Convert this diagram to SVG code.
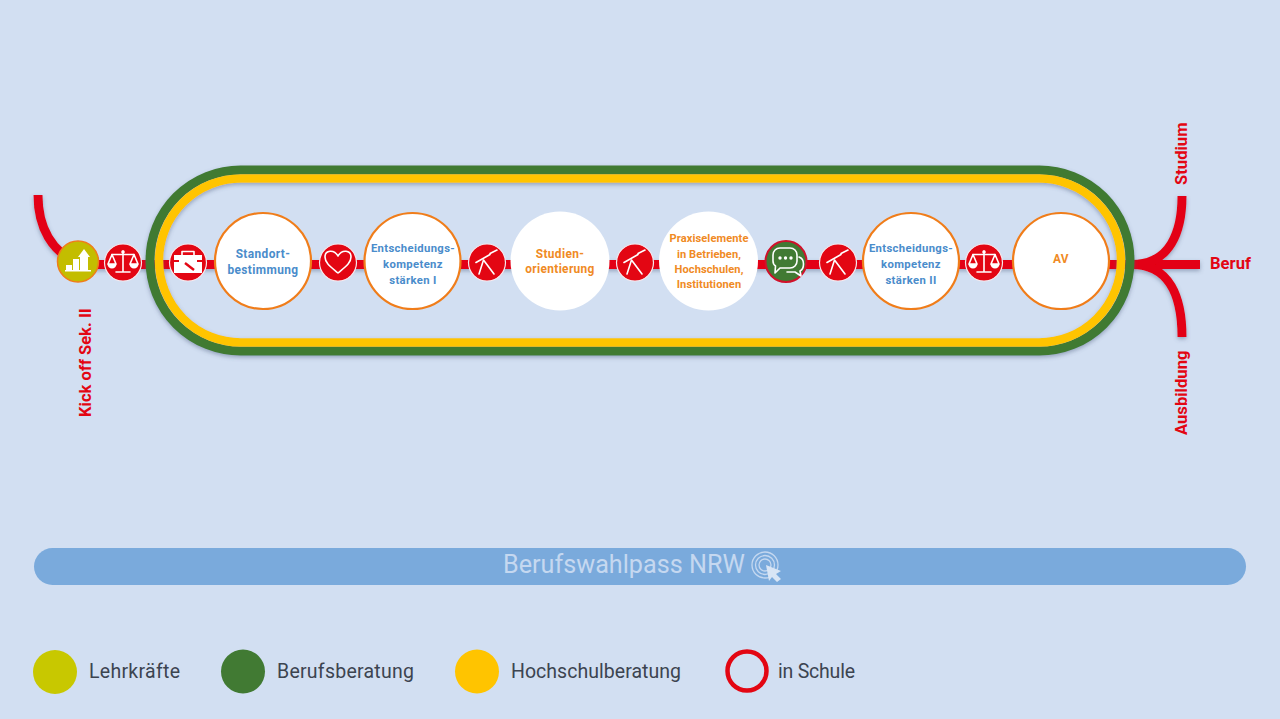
<svg xmlns="http://www.w3.org/2000/svg" width="1280" height="719" viewBox="0 0 1280 719">
<style>
text{font-family:Roboto,"Liberation Sans",sans-serif}
.line{fill:none;stroke:#e30613;stroke-width:9}
.big{fill:#fff;stroke:#f07d1a;stroke-width:2.2}
.bw{fill:#fff}
.sm{fill:#e30613;stroke:#f6e9ee;stroke-width:1.2}
.ic{fill:none;stroke:#fff;stroke-width:1.6;stroke-linecap:round;stroke-linejoin:round}
.if{fill:#fff}
.b{font-size:11.9px;font-weight:700;fill:#4a8ccb;text-anchor:middle;letter-spacing:.4px}
.e{font-size:11.3px;letter-spacing:.35px}
.o{font-size:11.9px;font-weight:700;fill:#f08a24;text-anchor:middle;letter-spacing:.35px}
.p{font-size:11.1px;letter-spacing:.1px}
.r{font-size:16.6px;font-weight:700;fill:#e30613}
.l{font-size:19.5px;fill:#3c4450}
</style>
<defs>
<filter id="sh" x="-5%" y="-15%" width="110%" height="135%"><feDropShadow dx="0" dy="2" stdDeviation="2" flood-color="#4a5a7a" flood-opacity=".45"/></filter>
<g id="scale"><path class="ic" stroke-width="1.900" d="M0-11V9M-7 10H7M-11-7.500H11"/><path class="ic" stroke-width="1.200" d="M-11-7.500L-15 2H-7ZM11-7.500L7 2H15Z"/><path class="if" d="M-15.500 2H-6.500A4.500 4.500 0 0 1-15.500 2ZM6.500 2H15.500A4.500 4.500 0 0 1 6.500 2Z"/><circle class="if" cy="-10" r="1.800"/></g>
<g id="scope"><path class="ic" stroke-width="1.500" d="M-3.500-2L-8 12M-3.500-2L7 12"/><path class="ic" stroke-width="3.600" stroke-linecap="butt" d="M-11 .5L3-7.500"/><path class="ic" stroke-width="5.600" stroke-linecap="butt" d="M3-8.500L10-12"/></g>
<g id="heart"><path class="ic" stroke-width="1.800" d="M0 11C-7 5-13 1-13-5C-13-12-4-13 0-6C4-13 13-12 13-5C13 1 7 5 0 11Z"/></g>
<g id="tool"><path class="if" d="M-14-7H14V11H-14Z"/><path class="ic" d="M-6-7V-10.500H6V-7"/><path fill="#e30613" d="M-14-2H-9V0H-14ZM9-2H14V0H9Z"/><path fill="none" stroke="#e30613" stroke-width="2.400" d="M-3 1L6 8"/></g>
</defs>
<rect id="background" width="1280" height="719" fill="#d2dff2"/>
<g id="connectors" filter="url(#sh)">
<path class="line" d="M78 264.500H1200"/>
<path class="line" d="M38 195C38 228 52 252 78 263"/>
<path class="line" d="M1182 196C1182 232 1170 264.500 1132 264.500"/>
<path class="line" d="M1182 337C1182 298 1170 264.500 1132 264.500"/>
</g>
<g id="ring" fill="none" filter="url(#sh)">
<rect x="150" y="170" width="980" height="181" rx="90.500" stroke="#417a33" stroke-width="9"/>
<rect x="159" y="178.500" width="962" height="164" rx="82" stroke="#ffc400" stroke-width="8.500"/>
</g>
<g id="kickoff"><circle cx="78" cy="261.500" r="20.500" fill="#c3bd00" stroke="#f07d1a" stroke-width="1.500"/><path class="if" d="M66 270V265H72V270ZM73 270V259H79V270ZM80 270V257L78 257L84 249L90 257H88V270ZM65 270H91V271.500H65Z"/></g>
<g id="n-scale1"><circle class="sm" cx="123" cy="262.500" r="18.500"/><use href="#scale" x="123" y="262"/></g>
<g id="n-tool"><circle class="sm" cx="188" cy="262.500" r="18.500"/><use href="#tool" x="188" y="262"/></g>
<g id="n-standort"><circle class="big" cx="263" cy="261" r="48"/><text class="b"><tspan x="263" y="257.500">Standort-</tspan><tspan x="263" y="273.500">bestimmung</tspan></text></g>
<g id="n-heart"><circle class="sm" cx="338" cy="262.500" r="18.500"/><use href="#heart" x="338" y="262"/></g>
<g id="n-ent1"><circle class="big" cx="412.500" cy="261" r="48"/><text class="b e"><tspan x="413" y="251.500">Entscheidungs-</tspan><tspan x="413" y="267.500">kompetenz</tspan><tspan x="413" y="283.500">stärken I</tspan></text></g>
<g id="n-scope1"><circle class="sm" cx="487" cy="262.500" r="18.500"/><use href="#scope" x="487" y="262"/></g>
<g id="n-studien"><circle class="bw" cx="560" cy="261" r="49.500"/><text class="o"><tspan x="560" y="257.500">Studien-</tspan><tspan x="560" y="272.500">orientierung</tspan></text></g>
<g id="n-scope2"><circle class="sm" cx="635" cy="262.500" r="18.500"/><use href="#scope" x="635" y="262"/></g>
<g id="n-praxis"><circle class="bw" cx="708.500" cy="261" r="49.500"/><text class="o p"><tspan x="709" y="242">Praxiselemente</tspan><tspan x="709" y="258">in Betrieben,</tspan><tspan x="709" y="273">Hochschulen,</tspan><tspan x="709" y="287.500">Institutionen</tspan></text></g>
<g id="n-chat"><circle cx="786" cy="261.500" r="20.500" fill="#417a33" stroke="#d0112b" stroke-width="2"/><path class="ic" stroke-width="1.900" d="M773 255C773 251 776 248 780 248H790C794 248 797 251 797 255V261C797 265 794 268 790 268H780L775 273L775.500 266C774 265 773 263 773 261Z"/><path class="ic" stroke-width="1.900" d="M799 257C802 258 803.500 261 803.500 264C803.500 267 802 270 800 271L801 276L795 272H787"/><circle class="if" cx="780" cy="258" r="1.700"/><circle class="if" cx="785.500" cy="258" r="1.700"/><circle class="if" cx="791" cy="258" r="1.700"/></g>
<g id="n-scope3"><circle class="sm" cx="838" cy="262.500" r="18.500"/><use href="#scope" x="838" y="262"/></g>
<g id="n-ent2"><circle class="big" cx="911" cy="261" r="48"/><text class="b e"><tspan x="911" y="251.500">Entscheidungs-</tspan><tspan x="911" y="267.500">kompetenz</tspan><tspan x="911" y="283.500">stärken II</tspan></text></g>
<g id="n-scale2"><circle class="sm" cx="984" cy="262.500" r="18.500"/><use href="#scale" x="984" y="262"/></g>
<g id="n-av"><circle class="big" cx="1061" cy="261" r="48"/><text class="o" x="1061" y="263">AV</text></g>
<text class="r" transform="translate(91 417) rotate(-90)">Kick off Sek. II</text>
<text class="r" transform="translate(1187 185) rotate(-90)">Studium</text>
<text class="r" transform="translate(1187 435) rotate(-90)">Ausbildung</text>
<text class="r" x="1210" y="269">Beruf</text>
<g id="pass"><rect x="34" y="548" width="1212" height="37" rx="18.500" fill="#7aaadc"/><text x="503" y="573" font-size="25.200" fill="#c5d8f0">Berufswahlpass NRW</text><g fill="none" stroke="#c5d8f0" stroke-width="1.300"><circle cx="765" cy="565" r="13"/><circle cx="765" cy="565" r="9.500"/><circle cx="765" cy="565" r="6"/></g><path fill="#d8e5f5" d="M766 565L781 571L776 574L781 579L777 582L772 577L769 581Z"/></g>
<g id="legend">
<circle cx="55" cy="672" r="22" fill="#c8c800"/><text class="l" x="89" y="678" textLength="91">Lehrkräfte</text>
<circle cx="243" cy="671.500" r="22" fill="#417a33"/><text class="l" x="277" y="678" textLength="137">Berufsberatung</text>
<circle cx="477" cy="671.500" r="22" fill="#ffc400"/><text class="l" x="511" y="678" textLength="170">Hochschulberatung</text>
<circle cx="747" cy="671" r="19.500" fill="none" stroke="#e30613" stroke-width="4.500"/><text class="l" x="778" y="678" textLength="77">in Schule</text>
</g>
</svg>
